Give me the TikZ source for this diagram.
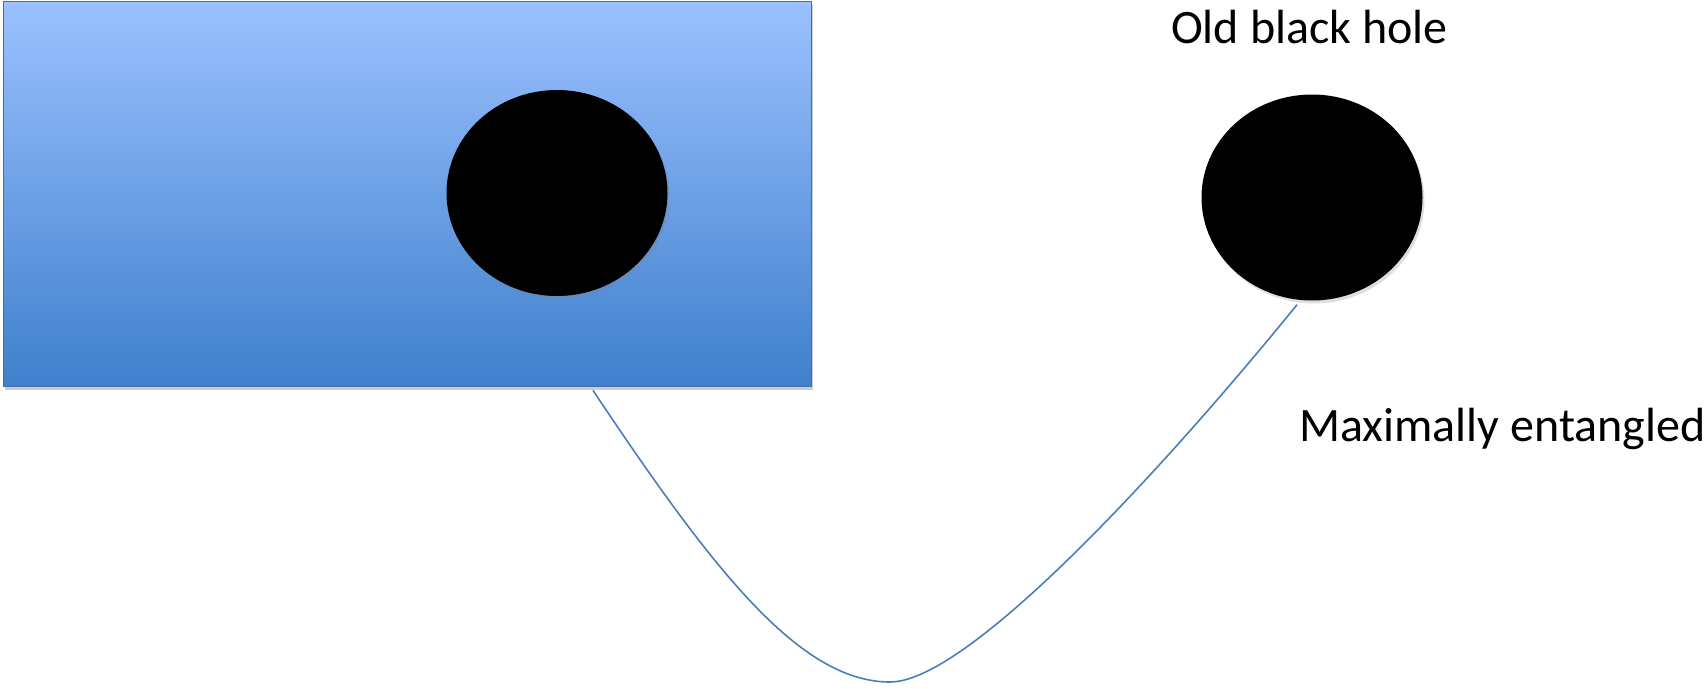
\documentclass[tikz,border=0pt]{standalone}
\usepackage{fontspec}
\setmainfont{Carlito}
\usepackage{tikz}
\usetikzlibrary{calc,shapes.geometric,shadows}
\definecolor{skytop}{RGB}{155,193,255}
\definecolor{skybottom}{RGB}{63,128,205}
\definecolor{skyedge}{RGB}{70,110,170}
\definecolor{wireblue}{RGB}{74,126,187}
\tikzset{
  region/.style={draw=skyedge,line width=0.8pt,top color=skytop,bottom color=skybottom,
                 minimum width=808pt,minimum height=385pt,inner sep=0pt,
                 drop shadow={shadow xshift=2pt,shadow yshift=-4pt,opacity=0.4}},
  hole/.style={ellipse,fill=black,minimum width=221pt,minimum height=206pt,inner sep=0pt,
               drop shadow={shadow xshift=2pt,shadow yshift=-3pt,opacity=0.25}},
  wire/.style={wireblue,line width=1.6pt},
  lab/.style={font=\fontsize{48}{58}\selectfont,inner sep=0pt,anchor=base west},
}
\begin{document}
\begin{tikzpicture}[x=1pt,y=-1pt]
  \path[use as bounding box] (0,0) rectangle (1704,688);
  \node[region] (sky) at (407,193.5) {};
  \node[hole] (newhole) at (557,193) {};
  \node[hole] (oldhole) at (1312,197.5) {};

  \node[lab] (oldlab) at (1171,43) {Old black hole};
  \node[lab] (entlab) at (1299,441) {Maximally entangled};

  \coordinate (wireA) at ([shift={(186,4)}]sky.south);
  \coordinate (wireB) at ([shift={(-15,4)}]oldhole.south);
  \coordinate (wireC) at (890,682);
  \draw[wire] (wireA) .. controls ($(wireA)+(120,180)$) and ($(wireC)+(-90,0)$) .. (wireC)
    .. controls ($(wireC)+(80,0)$) and ($(wireB)+(-126,155)$) .. (wireB);
\end{tikzpicture}
\end{document}
